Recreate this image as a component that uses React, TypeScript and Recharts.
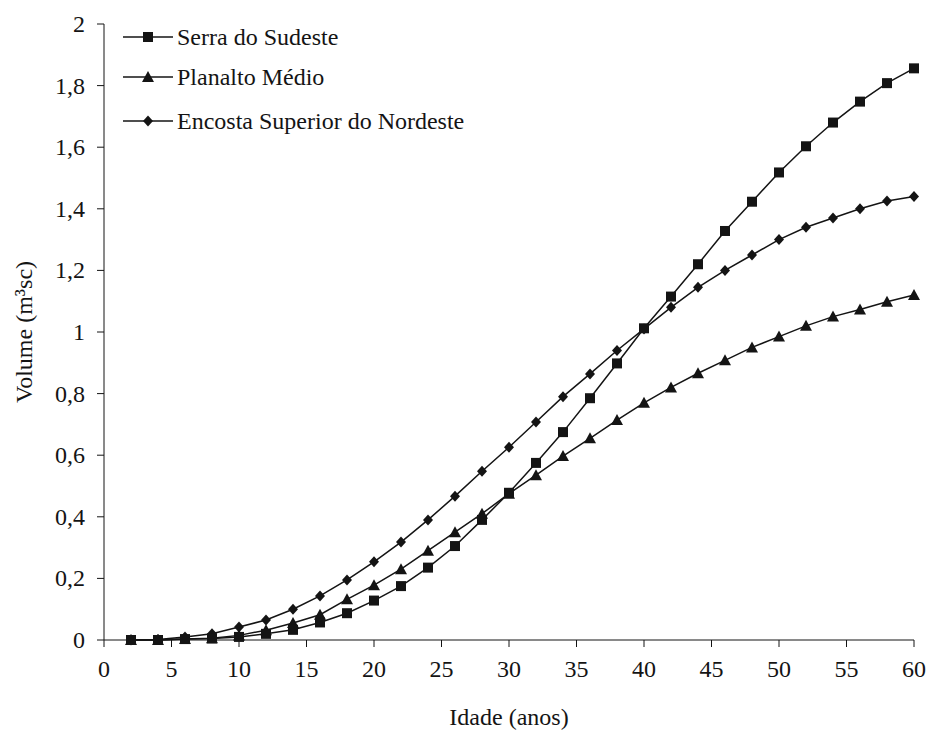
import React from 'react';
import {
  LineChart,
  Line,
  XAxis,
  YAxis,
} from 'recharts';

const ages = [2, 4, 6, 8, 10, 12, 14, 16, 18, 20, 22, 24, 26, 28, 30, 32, 34, 36, 38, 40, 42, 44, 46, 48, 50, 52, 54, 56, 58, 60];

const serraDoSudeste = [0.0, 0.0, 0.003, 0.005, 0.01, 0.02, 0.033, 0.057, 0.087, 0.128, 0.175, 0.235, 0.305, 0.39, 0.478, 0.575, 0.675, 0.785, 0.898, 1.012, 1.115, 1.22, 1.328, 1.423, 1.518, 1.603, 1.68, 1.748, 1.808, 1.856];
const planaltoMedio = [0.0, 0.0, 0.003, 0.006, 0.015, 0.032, 0.055, 0.082, 0.132, 0.178, 0.23, 0.29, 0.35, 0.41, 0.475, 0.535, 0.597, 0.655, 0.714, 0.77, 0.82, 0.866, 0.908, 0.95, 0.985, 1.02, 1.05, 1.073, 1.098, 1.12];
const encostaSuperior = [0.0, 0.002, 0.01, 0.02, 0.042, 0.065, 0.1, 0.143, 0.195, 0.254, 0.318, 0.39, 0.467, 0.548, 0.626, 0.708, 0.79, 0.864, 0.94, 1.01, 1.08, 1.145, 1.2, 1.25, 1.3, 1.34, 1.37, 1.4, 1.425, 1.44];

const xTicks = [0, 5, 10, 15, 20, 25, 30, 35, 40, 45, 50, 55, 60];
const yTicks = [0, 0.2, 0.4, 0.6, 0.8, 1, 1.2, 1.4, 1.6, 1.8, 2];

const seriesNames = ['Serra do Sudeste', 'Planalto Médio', 'Encosta Superior do Nordeste'];

const data = ages.map((age, i) => ({
  age,
  serra: serraDoSudeste[i],
  planalto: planaltoMedio[i],
  encosta: encostaSuperior[i],
}));

const INK = '#141414';
const FONT = 'Liberation Serif';
const FS = 24;

type Marker = 'square' | 'triangle' | 'diamond';

const markerShape = (kind: Marker, cx: number, cy: number, key?: string) => {
  if (kind === 'square') {
    return <rect key={key} x={cx - 5} y={cy - 5} width={10} height={10} fill={INK} />;
  }
  if (kind === 'triangle') {
    return <polygon key={key} points={`${cx},${cy - 6} ${cx + 6},${cy + 5} ${cx - 6},${cy + 5}`} fill={INK} />;
  }
  return <polygon key={key} points={`${cx},${cy - 5.5} ${cx + 5},${cy} ${cx},${cy + 5.5} ${cx - 5},${cy}`} fill={INK} />;
};

const makeDot = (kind: Marker) => (props: any) => {
  const { cx, cy, index } = props;
  if (cx == null || cy == null) return <g key={`${kind}-${index}`} />;
  return markerShape(kind, cx, cy, `${kind}-${index}`);
};

const legendMarkers: Marker[] = ['square', 'triangle', 'diamond'];
const legendRowY = [13, 53, 97];

// legend sits inside the plot, top-left
const ChartLegend = () => (
  <svg
    width={440}
    height={120}
    style={{ position: 'absolute', left: 123, top: 24, overflow: 'visible' }}
  >
    {seriesNames.map((name, i) => (
      <g key={name}>
        <line x1={0} x2={50} y1={legendRowY[i]} y2={legendRowY[i]} stroke={INK} strokeWidth={1.5} />
        {markerShape(legendMarkers[i], 25, legendRowY[i])}
        <text x={54} y={legendRowY[i] + 8} fill={INK} fontSize={FS} fontFamily={FONT}>
          {name}
        </text>
      </g>
    ))}
  </svg>
);

const YLabel = (props: any) => {
  const { viewBox } = props;
  const cy = viewBox.y + viewBox.height / 2;
  return (
    <text
      x={24}
      y={cy}
      transform={`rotate(-90, 24, ${cy})`}
      textAnchor="middle"
      dominantBaseline="central"
      fill={INK}
      fontSize={FS}
      fontFamily={FONT}
    >
      Volume (m³sc)
    </text>
  );
};

const XLabel = (props: any) => {
  const { viewBox } = props;
  const cx = viewBox.x + viewBox.width / 2;
  return (
    <text x={cx} y={725} textAnchor="middle" fill={INK} fontSize={FS} fontFamily={FONT}>
      Idade (anos)
    </text>
  );
};

const fmt = (v: number) => String(Math.round(v * 10) / 10).replace('.', ',');

const XTick = (props: any) => {
  const { x, y, payload } = props;
  return (
    <text x={x} y={y + 28} textAnchor="middle" fill={INK} fontSize={FS} fontFamily={FONT}>
      {payload.value}
    </text>
  );
};

const YTick = (props: any) => {
  const { x, y, payload } = props;
  return (
    <text x={x - 10} y={y + 8} textAnchor="end" fill={INK} fontSize={FS} fontFamily={FONT}>
      {fmt(payload.value)}
    </text>
  );
};

export default function App() {
  return (
    <div style={{ position: 'absolute', left: 0, top: 0, width: 928, height: 732, background: '#fff' }}>
      <LineChart
        width={928}
        height={732}
        data={data}
        margin={{ top: 24, right: 14, left: 0, bottom: 32 }}
      >
        <XAxis
          dataKey="age"
          type="number"
          domain={[0, 60]}
          ticks={xTicks}
          height={60}
          stroke={INK}
          tickLine={{ stroke: INK }}
          tickSize={7}
          tick={<XTick />}
          label={<XLabel />}
        />
        <YAxis
          type="number"
          domain={[0, 2]}
          ticks={yTicks}
          width={104}
          stroke={INK}
          tickSize={7}
          tick={<YTick />}
          label={<YLabel />}
        />
        <Line
          dataKey="encosta"
          name={seriesNames[2]}
          stroke={INK}
          strokeWidth={1.5}
          dot={makeDot('diamond')}
          isAnimationActive={false}
        />
        <Line
          dataKey="planalto"
          name={seriesNames[1]}
          stroke={INK}
          strokeWidth={1.5}
          dot={makeDot('triangle')}
          isAnimationActive={false}
        />
        <Line
          dataKey="serra"
          name={seriesNames[0]}
          stroke={INK}
          strokeWidth={1.5}
          dot={makeDot('square')}
          isAnimationActive={false}
        />
      </LineChart>
      <ChartLegend />
    </div>
  );
}
